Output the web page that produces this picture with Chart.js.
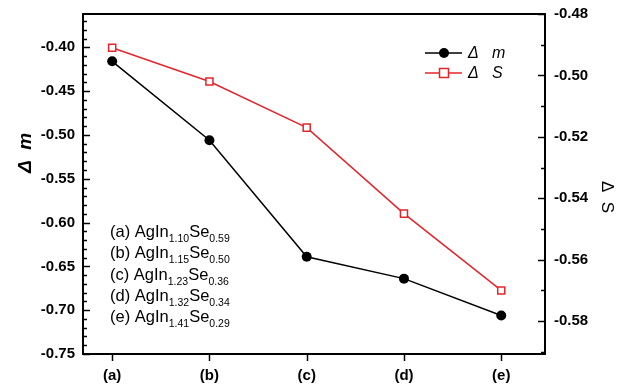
<!DOCTYPE html>
<html>
<head>
<meta charset="utf-8">
<script src="https://cdn.jsdelivr.net/npm/chart.js@4.4.1/dist/chart.umd.min.js"></script>
<style>
  html, body { margin: 0; padding: 0; background: #fff; }
  #wrap { width: 628px; height: 385px; }
</style>
</head>
<body>
<div id="wrap"><canvas id="chart"></canvas></div>
<script>
// dados
const categories = ['(a)', '(b)', '(c)', '(d)', '(e)'];
const deltaM = [-0.416, -0.506, -0.639, -0.664, -0.706];
const deltaS = [-0.491, -0.502, -0.517, -0.545, -0.570];
const leftTicks = [-0.75, -0.70, -0.65, -0.60, -0.55, -0.50, -0.45, -0.40];
const rightTicks = [-0.58, -0.56, -0.54, -0.52, -0.50, -0.48];
const sampleLabels = ['(a) AgIn', '(b) AgIn', '(c) AgIn', '(d) AgIn', '(e) AgIn'];
const inSub = ['1.10', '1.15', '1.23', '1.32', '1.41'];
const seSub = ['0.59', '0.50', '0.36', '0.34', '0.29'];

const FONT = "'Liberation Sans', Arial, sans-serif";
const RED = '#e3262b';

// molduras, ticks, legenda e anotações
const decor = {
  id: 'decor',
  beforeDatasetsDraw(chart) {
    const { ctx, chartArea: a, scales } = chart;
    ctx.save();
    ctx.strokeStyle = '#000';
    ctx.lineWidth = 1.5;
    // ticks esquerda (para dentro), menores a cada 0.01
    const y = scales.y;
    for (let k = Math.ceil(y.min / 0.01 - 1e-6); k <= Math.floor(y.max / 0.01 + 1e-6); k++) {
      const major = k % 5 === 0;
      const py = Math.round(y.getPixelForValue(k * 0.01)) + 0.5;
      ctx.beginPath();
      ctx.moveTo(a.left, py);
      ctx.lineTo(a.left + (major ? 7 : 4), py);
      ctx.stroke();
    }
    // ticks direita (para dentro)
    const y2 = scales.y2;
    for (let k = Math.ceil(y2.min / 0.01 - 1e-6); k <= Math.floor(y2.max / 0.01 + 1e-6); k++) {
      const major = k % 2 === 0;
      const py = Math.round(y2.getPixelForValue(k * 0.01)) + 0.5;
      ctx.beginPath();
      ctx.moveTo(a.right, py);
      ctx.lineTo(a.right - (major ? 7 : 4), py);
      ctx.stroke();
    }
    // ticks do eixo x (para fora)
    const x = scales.x;
    categories.forEach((c, i) => {
      const px = Math.round(x.getPixelForValue(i)) + 0.5;
      ctx.beginPath();
      ctx.moveTo(px, a.bottom);
      ctx.lineTo(px, a.bottom + 7);
      ctx.stroke();
    });
    ctx.lineWidth = 2;
    ctx.strokeRect(a.left, a.top, a.right - a.left, a.bottom - a.top);
    ctx.restore();
  },
  afterDraw(chart) {
    const { ctx } = chart;
    ctx.save();
    // títulos dos eixos
    ctx.fillStyle = '#000';
    ctx.textAlign = 'center';
    ctx.textBaseline = 'middle';
    ctx.save();
    ctx.translate(26, 153);
    ctx.rotate(-Math.PI / 2);
    ctx.font = 'bold italic 19px ' + FONT;
    ctx.fillText('Δ  m', 0, 0);
    ctx.restore();
    ctx.save();
    ctx.translate(607, 197);
    ctx.rotate(Math.PI / 2);
    ctx.font = '17px ' + FONT;
    ctx.fillText('Δ  S', 0, 0);
    ctx.restore();

    // legenda
    chart.data.datasets.forEach((ds, i) => {
      const ly = 53 + i * 20;
      ctx.strokeStyle = ds.borderColor;
      ctx.lineWidth = 1.5;
      ctx.beginPath();
      ctx.moveTo(425, ly);
      ctx.lineTo(462, ly);
      ctx.stroke();
      if (ds.pointStyle === 'circle') {
        ctx.fillStyle = ds.pointBackgroundColor;
        ctx.beginPath();
        ctx.arc(444, ly, ds.pointRadius, 0, Math.PI * 2);
        ctx.fill();
      } else {
        const r = ds.pointRadius * 0.9;
        ctx.fillStyle = '#fff';
        ctx.fillRect(444 - r, ly - r, 2 * r, 2 * r);
        ctx.strokeStyle = ds.pointBorderColor;
        ctx.strokeRect(444 - r, ly - r, 2 * r, 2 * r);
      }
      ctx.fillStyle = '#000';
      ctx.font = 'italic 16px ' + FONT;
      ctx.textAlign = 'left';
      ctx.fillText(ds.label.replace(' ', '   '), 468, ly + 1);
    });

    // composições das amostras
    ctx.textAlign = 'left';
    ctx.textBaseline = 'alphabetic';
    sampleLabels.forEach((s, i) => {
      const by = 237 + i * 21.3;
      let px = 110;
      ctx.font = '16.5px ' + FONT;
      ctx.fillText(s, px, by);
      px += ctx.measureText(s).width;
      ctx.font = '10.5px ' + FONT;
      ctx.fillText(inSub[i], px, by + 5);
      px += ctx.measureText(inSub[i]).width;
      ctx.font = '16.5px ' + FONT;
      ctx.fillText('Se', px, by);
      px += ctx.measureText('Se').width;
      ctx.font = '10.5px ' + FONT;
      ctx.fillText(seSub[i], px, by + 5);
    });
    ctx.restore();
  }
};

const ctx = document.getElementById('chart').getContext('2d');

const tickFont = { family: FONT, size: 15, weight: 'bold' };

// zera os paddings automáticos para fixar a área do gráfico
function noPad(s) {
  s.paddingTop = 0; s.paddingBottom = 0; s.paddingLeft = 0; s.paddingRight = 0;
}

new Chart(ctx, {
  type: 'line',
  data: {
    datasets: [{
      label: 'Δ m',
      data: deltaM.map((v, i) => ({ x: i, y: v })),
      yAxisID: 'y',
      borderColor: '#000',
      borderWidth: 1.5,
      pointStyle: 'circle',
      pointRadius: 5,
      pointBackgroundColor: '#000',
      pointBorderColor: '#000',
      pointBorderWidth: 0,
      tension: 0
    }, {
      label: 'Δ S',
      data: deltaS.map((v, i) => ({ x: i, y: v })),
      yAxisID: 'y2',
      borderColor: RED,
      borderWidth: 1.5,
      pointStyle: 'rect',
      pointRadius: 5,
      pointBackgroundColor: '#fff',
      pointBorderColor: RED,
      pointBorderWidth: 1.5,
      tension: 0
    }]
  },
  options: {
    responsive: true,
    maintainAspectRatio: false,
    animation: false,
    layout: { padding: { top: 14, left: 0, right: 0, bottom: 0 } },
    plugins: {
      legend: { display: false },
      tooltip: { enabled: false }
    },
    scales: {
      x: {
        type: 'linear',
        min: -0.3,
        max: 4.45,
        grid: { display: false, drawTicks: false },
        border: { display: false },
        afterBuildTicks: s => { s.ticks = categories.map((c, i) => ({ value: i })); },
        afterFit: s => { s.height = 31; noPad(s); },
        ticks: {
          color: '#000',
          font: tickFont,
          padding: 13,
          callback: v => categories[v]
        }
      },
      y: {
        position: 'left',
        min: -0.75,
        max: -0.362,
        grid: { display: false, drawTicks: false },
        border: { display: false },
        afterBuildTicks: s => { s.ticks = leftTicks.map(v => ({ value: v })); },
        afterFit: s => { s.width = 83; noPad(s); },
        ticks: {
          color: '#000',
          font: tickFont,
          padding: 8,
          callback: v => v.toFixed(2)
        }
      },
      y2: {
        position: 'right',
        min: -0.5907,
        max: -0.48,
        grid: { display: false, drawTicks: false },
        border: { display: false },
        afterBuildTicks: s => { s.ticks = rightTicks.map(v => ({ value: v })); },
        afterFit: s => { s.width = 83; noPad(s); },
        ticks: {
          color: '#000',
          font: tickFont,
          padding: 9,
          callback: v => v.toFixed(2)
        }
      }
    }
  },
  plugins: [decor]
});
</script>
</body>
</html>
